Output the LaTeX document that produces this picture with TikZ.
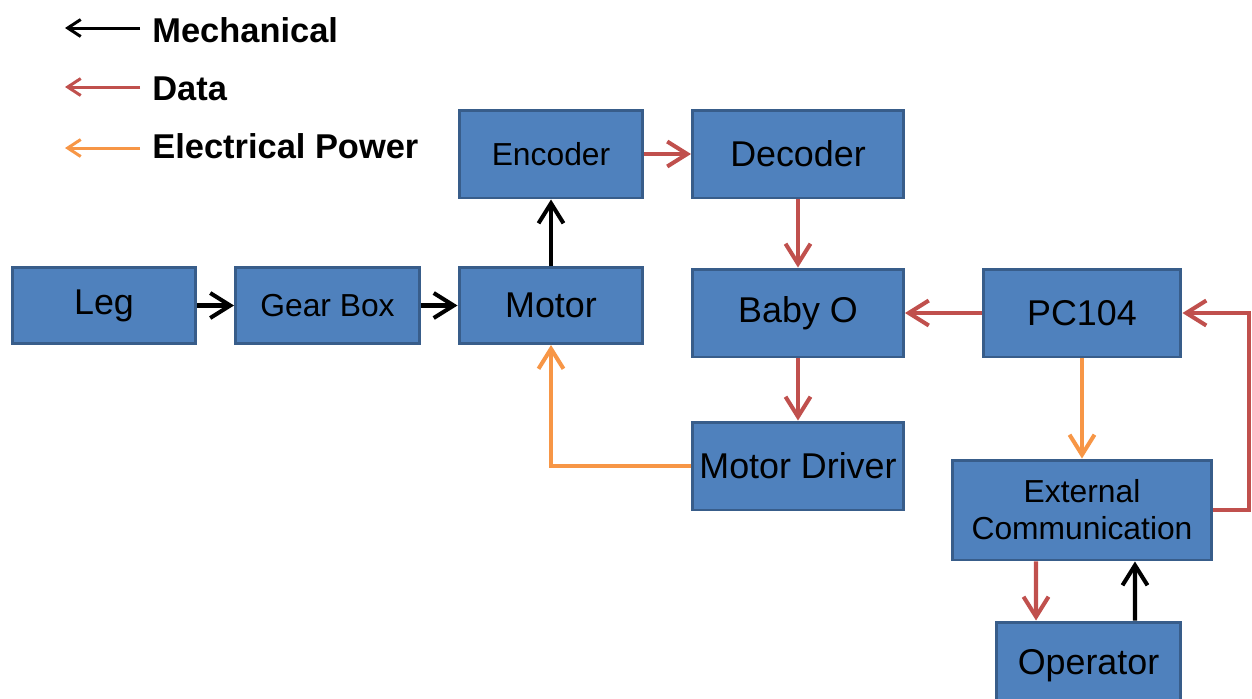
\documentclass[tikz,border=0pt]{standalone}
\usepackage{fontspec}
\setmainfont{Liberation Sans}
\usetikzlibrary{arrows.meta}
\definecolor{BoxBlue}{HTML}{4F81BD}
\definecolor{BoxEdge}{HTML}{385D8A}
\definecolor{DataRed}{HTML}{C0504D}
\definecolor{PowerOrange}{HTML}{F79646}

\begin{document}
\begin{tikzpicture}[
        x=0.02cm, y=-0.02cm,
        block/.style={
            rectangle, draw=BoxEdge, fill=BoxBlue, line width=1.7pt,
            inner sep=2pt, minimum width=3.68cm, minimum height=1.52cm,
            align=center, font=\fontsize{20.4}{24}\selectfont
        },
        wideblock/.style={block, minimum width=4.22cm, minimum height=1.76cm},
        smalltext/.style={font=\fontsize{18.1}{21}\selectfont},
        link/.style={line width=2.3pt, -{Straight Barb[length=4mm, width=5mm]}},
        mech/.style={link, draw=black},
        data/.style={link, draw=DataRed},
        power/.style={link, draw=PowerOrange},
        key/.style={line width=1.7pt, -{Straight Barb[length=2.6mm, width=3.4mm]}},
        keytext/.style={anchor=base west, inner sep=0pt, font=\bfseries\fontsize{19.6}{23}\selectfont}
    ]
        \useasboundingbox (0,0) rectangle (1252,698);

        % legend
        \node[keytext] (mechkey) at (152,42) {Mechanical};
        \node[keytext] (datakey) at (152,100) {Data};
        \node[keytext] (powerkey) at (152,158) {Electrical Power};
        \coordinate (mechtail) at (140,28);
        \coordinate (mechhead) at (65,28);
        \coordinate (datatail) at (140,87);
        \coordinate (datahead) at (65,87);
        \coordinate (powertail) at (140,148);
        \coordinate (powerhead) at (65,148);
        \draw[key, draw=black] (mechtail) -- (mechhead);
        \draw[key, draw=DataRed] (datatail) -- (datahead);
        \draw[key, draw=PowerOrange] (powertail) -- (powerhead);

        % blocks
        \node[block] (leg) at (104,305.5) {Leg};
        \node[block, smalltext] (gear) at (327.5,305.5) {Gear Box};
        \node[block] (motor) at (551,305.5) {Motor};
        \node[block, smalltext, minimum height=1.76cm] (enc) at (551,154) {Encoder};
        \node[wideblock] (dec) at (798,154) {Decoder};
        \node[wideblock] (baby) at (798,313) {Baby O};
        \node[wideblock] (mdrv) at (798,466) {Motor Driver};
        \node[wideblock, minimum width=3.96cm] (pc) at (1082,313) {PC104};
        \node[block, smalltext, minimum width=5.2cm, minimum height=2cm] (ext) at (1082,510) {External\\Communication};
        \node[block, minimum height=1.76cm] (op) at (1088.5,666) {Operator};

        % connections
        \draw[mech] (leg) -- (gear);
        \draw[mech] (gear) -- (motor);
        \draw[mech] (motor) -- (enc);
        \draw[data] (enc) -- (dec);
        \draw[data] (dec) -- (baby);
        \draw[data] (baby) -- (mdrv);
        \draw[data] (pc) -- (baby);
        \draw[power] (mdrv.west) -| (motor.south);
        \draw[power] (pc) -- (ext);
        \draw[data] (ext.east) -- ++(36,0) |- (pc.east);
        \draw[data] ([xshift=-0.92cm]ext.south) -- ([xshift=-1.05cm]op.north);
        \draw[mech] ([xshift=0.93cm]op.north) -- ([xshift=1.06cm]ext.south);
    \end{tikzpicture}
\end{document}
